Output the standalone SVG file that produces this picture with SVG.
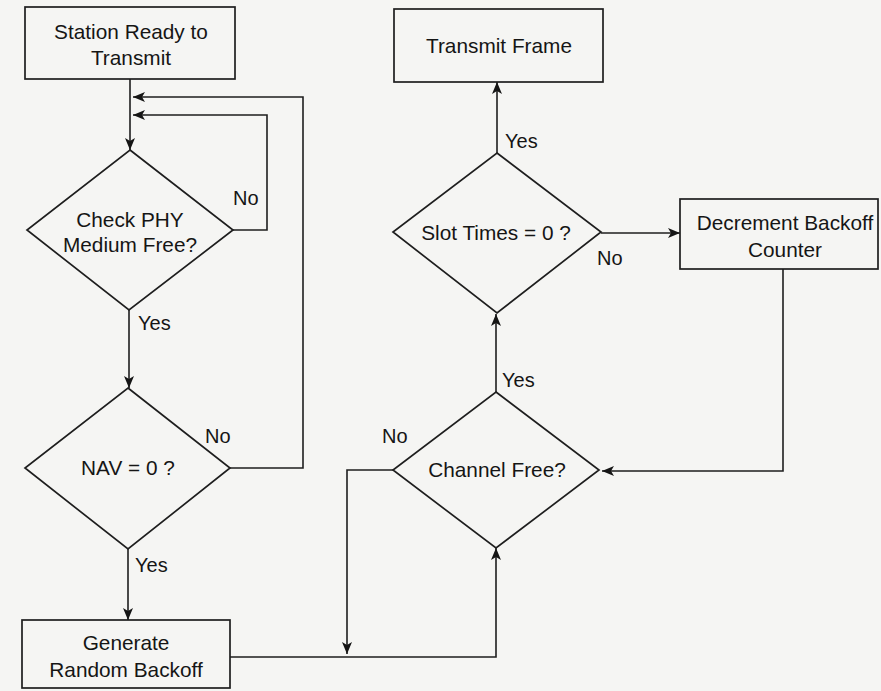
<svg xmlns="http://www.w3.org/2000/svg" width="881" height="691" viewBox="0 0 881 691">
  <defs>
    <style>
      .box { fill: none; stroke: #1e1e1e; stroke-width: 1.7; }
      .dia { fill: none; stroke: #1e1e1e; stroke-width: 1.7; stroke-linejoin: miter; }
      .edge { fill: none; stroke: #1e1e1e; stroke-width: 1.6; }
      .t { font-family: "Liberation Sans", Arial, Helvetica, sans-serif; font-size: 20.8px; fill: #151515; text-anchor: middle; }
      .lbl { font-family: "Liberation Sans", Arial, Helvetica, sans-serif; font-size: 20px; fill: #151515; }
    </style>
    <marker id="arrow" markerUnits="userSpaceOnUse" markerWidth="12" markerHeight="10" viewBox="0 0 12 10" refX="12" refY="5" orient="auto">
      <path d="M0,0 L12,5 L0,10 L3,5 Z" fill="#151515"/>
    </marker>
  </defs>

  <rect x="0" y="0" width="881" height="691" fill="#f5f5f3"/>

  <!-- connectors -->
  <g id="connectors">
    <path class="edge" d="M130,79 V150" marker-end="url(#arrow)"/>
    <path class="edge" d="M233,230 H267 V115 H133" marker-end="url(#arrow)"/>
    <path class="edge" d="M129,310 V388" marker-end="url(#arrow)"/>
    <path class="edge" d="M230,468 H303 V97 H133" marker-end="url(#arrow)"/>
    <path class="edge" d="M128,549 V620" marker-end="url(#arrow)"/>
    <path class="edge" d="M230,657 H496 V548" marker-end="url(#arrow)"/>
    <path class="edge" d="M393,470 H347 V654" marker-end="url(#arrow)"/>
    <path class="edge" d="M496,392 V314" marker-end="url(#arrow)"/>
    <path class="edge" d="M497,153 V82" marker-end="url(#arrow)"/>
    <path class="edge" d="M601,233 H680" marker-end="url(#arrow)"/>
    <path class="edge" d="M783,269 V471 H602" marker-end="url(#arrow)"/>

    <text class="lbl" x="233" y="205">No</text>
    <text class="lbl" x="138" y="330">Yes</text>
    <text class="lbl" x="205" y="443">No</text>
    <text class="lbl" x="135" y="572">Yes</text>
    <text class="lbl" x="382" y="443">No</text>
    <text class="lbl" x="502" y="387">Yes</text>
    <text class="lbl" x="505" y="148">Yes</text>
    <text class="lbl" x="597" y="265">No</text>
  </g>

  <!-- nodes -->
  <g id="station-ready">
    <rect class="box" x="25" y="7" width="210" height="72"/>
    <text class="t" x="131" y="39">Station Ready to</text>
    <text class="t" x="131" y="65">Transmit</text>
  </g>

  <g id="check-phy">
    <polygon class="dia" points="130,150 233,230 129,310 27,230"/>
    <text class="t" x="130" y="227">Check PHY</text>
    <text class="t" x="130" y="252">Medium Free?</text>
  </g>

  <g id="nav-zero">
    <polygon class="dia" points="128,388 230,468 128,549 25,468"/>
    <text class="t" x="128" y="475">NAV = 0 ?</text>
  </g>

  <g id="generate-backoff">
    <rect class="box" x="22" y="620" width="208" height="68"/>
    <text class="t" x="126" y="650">Generate</text>
    <text class="t" x="126" y="677">Random Backoff</text>
  </g>

  <g id="channel-free">
    <polygon class="dia" points="496,392 599,470 496,548 393,470"/>
    <text class="t" x="497" y="477">Channel Free?</text>
  </g>

  <g id="slot-times">
    <polygon class="dia" points="497,153 601,232 497,313 393,232"/>
    <text class="t" x="496" y="240">Slot Times = 0 ?</text>
  </g>

  <g id="transmit-frame">
    <rect class="box" x="394" y="9" width="209" height="73"/>
    <text class="t" x="499" y="53">Transmit Frame</text>
  </g>

  <g id="decrement-backoff">
    <rect class="box" x="680" y="199" width="198" height="70"/>
    <text class="t" x="785" y="230">Decrement Backoff</text>
    <text class="t" x="785" y="257">Counter</text>
  </g>
</svg>
